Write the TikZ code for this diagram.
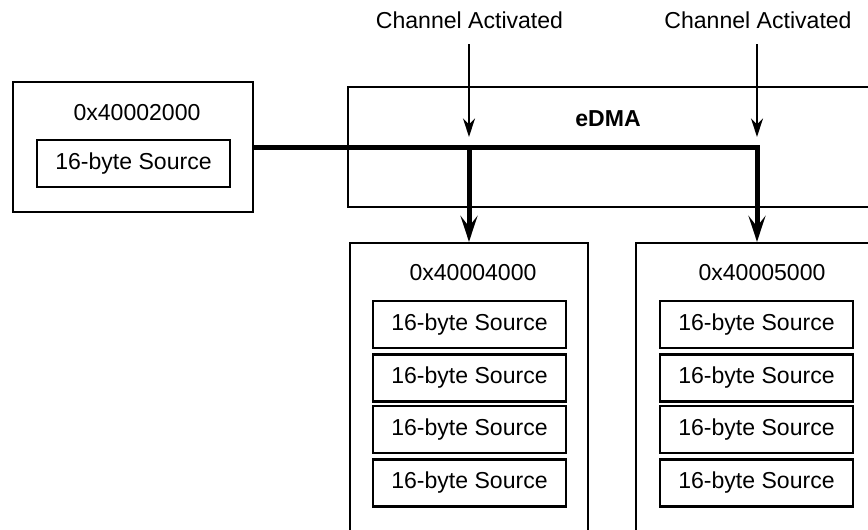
\documentclass[tikz,border=0pt]{standalone}
\usepackage{fontspec}
\setmainfont{Liberation Sans}
\usetikzlibrary{arrows.meta}
\begin{document}
\begin{tikzpicture}[x=0.75pt,y=-0.75pt,
  every node/.style={font=\fontsize{17.3}{20}\selectfont},
  box/.style={draw, line width=1.7pt, inner sep=0pt},
  cell/.style={box, minimum width=144.75pt, minimum height=35.25pt},
  lbl/.style={inner sep=0pt},
  trig/.style={line width=1.6pt, -{Stealth[length=14pt,width=9pt,inset=4.5pt]}},
  bus/.style={line width=3.75pt, -{Stealth[length=19.5pt,width=12.75pt,inset=8pt]}}]
\useasboundingbox (0,0) rectangle (868,529);
\clip (0,0) rectangle (868,529);
% source
\node[box, minimum width=180pt, minimum height=97.5pt] (src) at (133,147) {};
\node[lbl] (srclbl) at (137,113) {0x40002000};
\node[cell] (srcin) at (133.5,163.5) {16-byte Source};
% eDMA
\node[box, minimum width=429pt, minimum height=90pt] (edma) at (634,147) {};
\node[lbl, font=\fontsize{17.3}{20}\selectfont\bfseries] (edmalbl) at (608,119) {eDMA};
% destinations
\node[box, minimum width=178.5pt, minimum height=237.75pt] (dsta) at (469,401.5) {};
\node[lbl] (dstalbl) at (473,273) {0x40004000};
\node[cell] (a1) at (469.5,324.5) {16-byte Source};
\node[cell] (a2) at (469.5,378) {16-byte Source};
\node[cell] (a3) at (469.5,429.5) {16-byte Source};
\node[cell] (a4) at (469.5,483) {16-byte Source};
\node[box, minimum width=213pt, minimum height=237.75pt] (dstb) at (778,401.5) {};
\node[lbl] (dstblbl) at (762,273) {0x40005000};
\node[cell] (b1) at (756.5,324.5) {16-byte Source};
\node[cell] (b2) at (756.5,378) {16-byte Source};
\node[cell] (b3) at (756.5,429.5) {16-byte Source};
\node[cell] (b4) at (756.5,483) {16-byte Source};
% triggers
\node[lbl] (ch1) at (469.5,20) {Channel Activated};
\node[lbl] (ch2) at (758,20) {Channel Activated};
\coordinate (t1) at (469,137);
\coordinate (t2) at (757,137);
\draw[trig, shorten <=11.5pt] (ch1.south -| t1) -- (t1);
\draw[trig, shorten <=11.5pt] (ch2.south -| t2) -- (t2);
% data path
\coordinate (j1) at (469,147);
\coordinate (j2) at (757,147);
\draw[bus] (src.east |- j1) -- (j2) -- (j2 |- dstb.north);
\draw[bus] (j1) -- (j1 |- dsta.north);
\end{tikzpicture}
\end{document}
